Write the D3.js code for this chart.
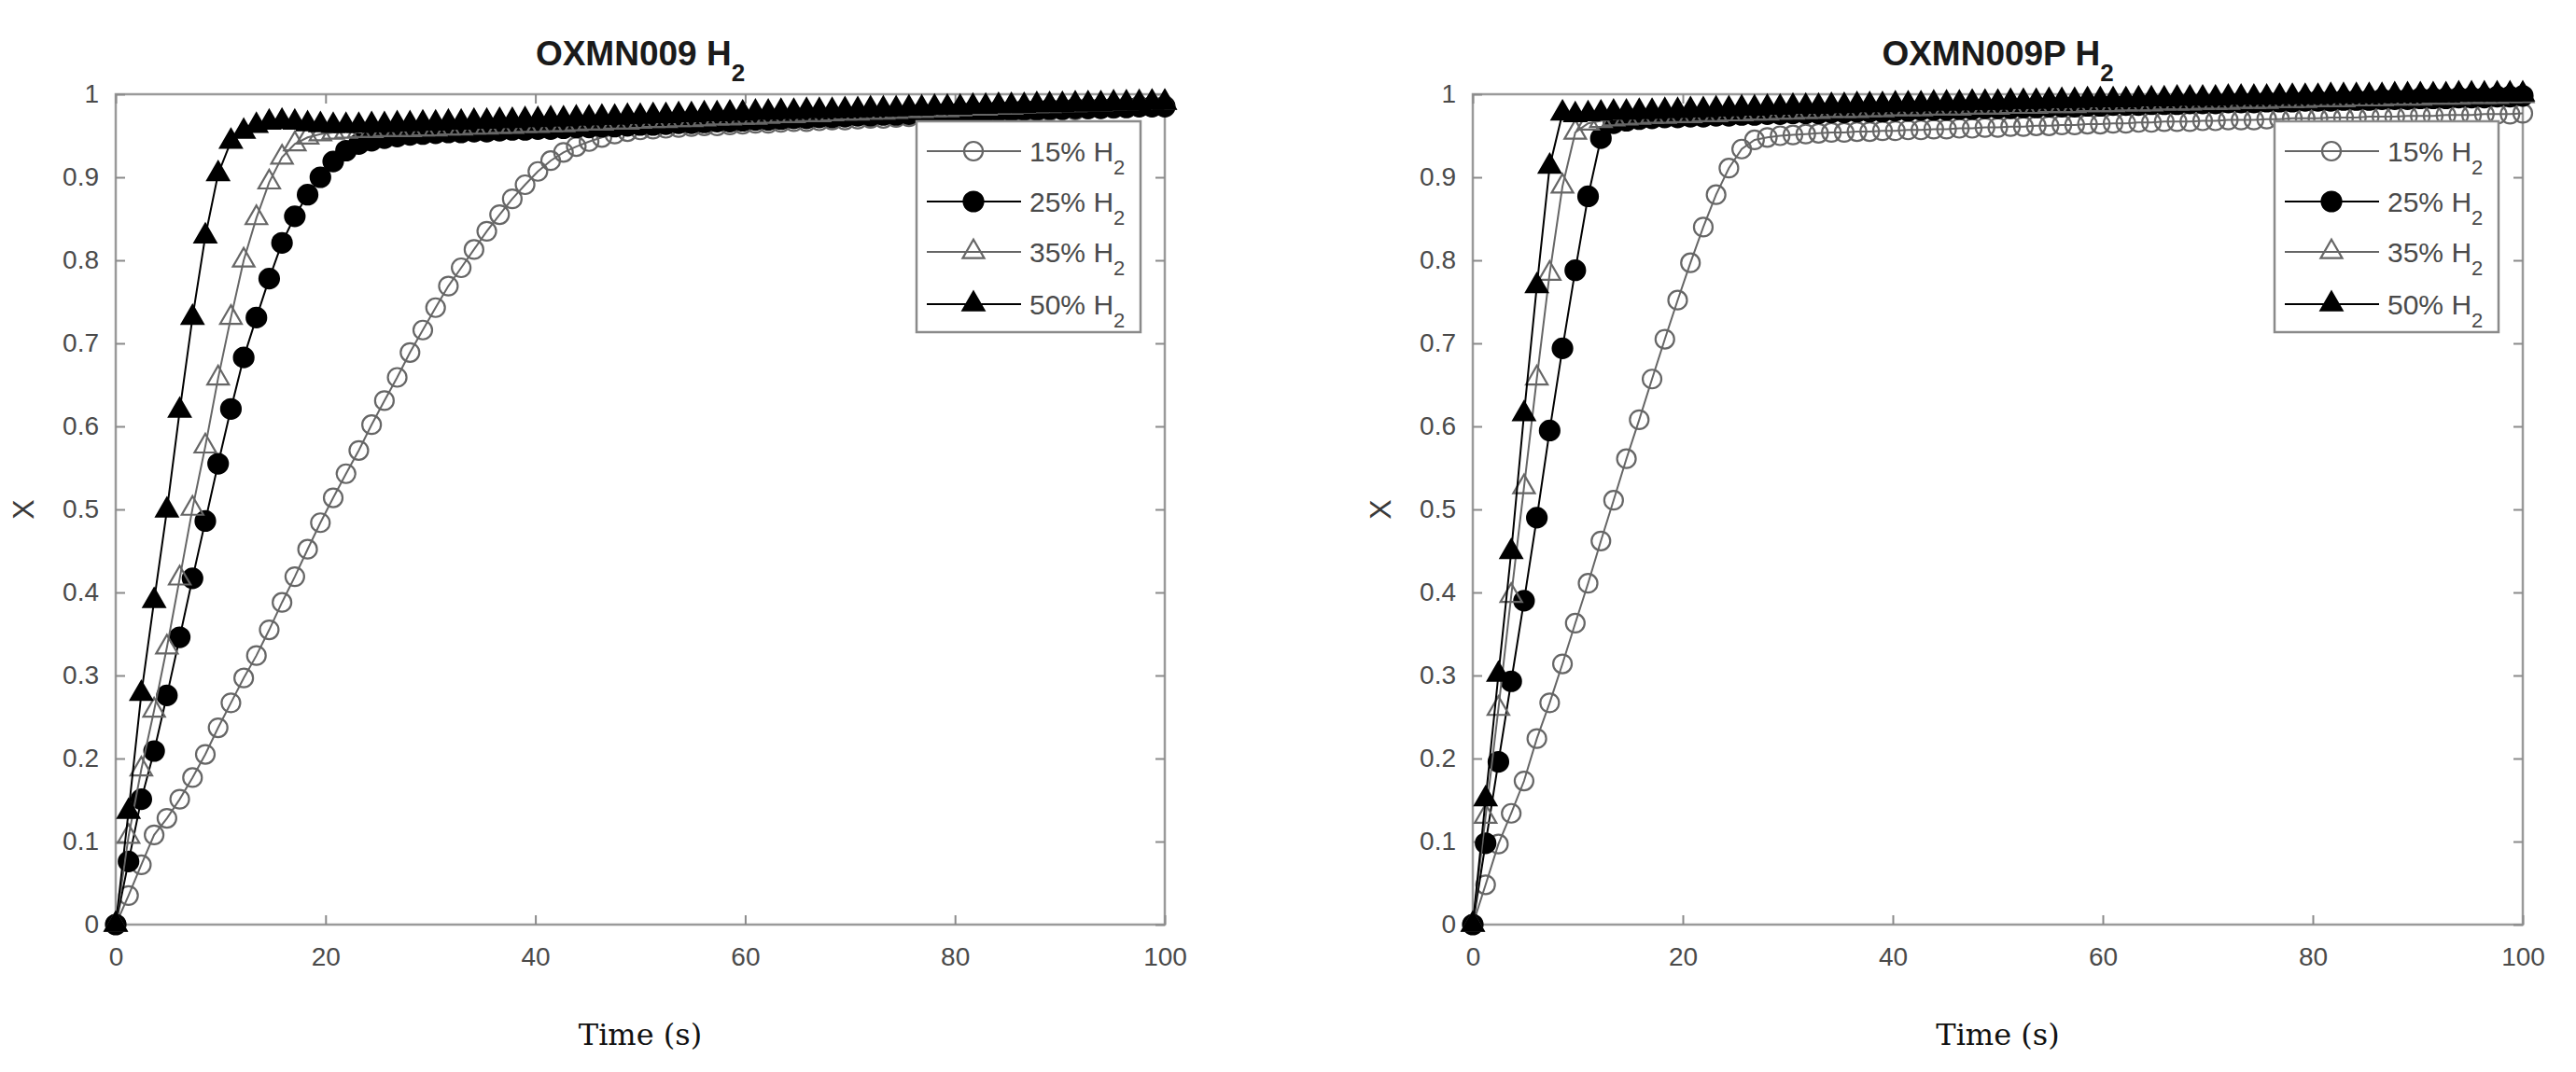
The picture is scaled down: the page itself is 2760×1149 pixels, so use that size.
<!DOCTYPE html>
<html><head><meta charset="utf-8">
<script src="https://cdn.jsdelivr.net/npm/d3@7"></script>
<style>body{margin:0;background:#fff}</style>
</head><body>
<svg id="c" width="2760" height="1149"></svg>
<script>
const time = [0,1.22,2.44,3.66,4.88,6.10,7.32,8.54,9.76,10.98,
12.20,13.41,14.63,15.85,17.07,18.29,19.51,20.73,21.95,23.17,
24.39,25.61,26.83,28.05,29.27,30.49,31.71,32.93,34.15,35.37,
36.59,37.80,39.02,40.24,41.46,42.68,43.90,45.12,46.34,47.56,
48.78,50.00,51.22,52.44,53.66,54.88,56.10,57.32,58.54,59.76,
60.98,62.20,63.41,64.63,65.85,67.07,68.29,69.51,70.73,71.95,
73.17,74.39,75.61,76.83,78.05,79.27,80.49,81.71,82.93,84.15,
85.37,86.59,87.80,89.02,90.24,91.46,92.68,93.90,95.12,96.34,
97.56,98.78,100.00];

const xTicks = [0,20,40,60,80,100];
const yTicks = [0,0.1,0.2,0.3,0.4,0.5,0.6,0.7,0.8,0.9,1];
const yTickLabels = ["0","0.1","0.2","0.3","0.4","0.5","0.6","0.7","0.8","0.9","1"];
const legendLabels = ["15% H","25% H","35% H","50% H"];
const titles = ["OXMN009 H","OXMN009P H"];
const xLabel = "Time (s)";
const yLabel = "X";

// OXMN009 (left panel)
const left15 = [0,0.035,0.072,0.108,0.128,0.151,0.177,0.205,0.237,0.267,
0.297,0.324,0.355,0.388,0.419,0.452,0.484,0.514,0.543,0.571,
0.602,0.631,0.659,0.689,0.716,0.743,0.769,0.791,0.813,0.835,
0.855,0.874,0.891,0.907,0.920,0.930,0.937,0.943,0.948,0.952,
0.955,0.957,0.958,0.959,0.960,0.961,0.962,0.962,0.963,0.964,
0.965,0.965,0.966,0.967,0.967,0.968,0.969,0.969,0.970,0.971,
0.971,0.972,0.973,0.973,0.974,0.975,0.975,0.976,0.977,0.977,
0.978,0.979,0.979,0.980,0.981,0.981,0.982,0.983,0.983,0.984,
0.985,0.985,0.986];
const left25 = [0,0.076,0.151,0.209,0.276,0.346,0.417,0.486,0.555,0.621,
0.683,0.731,0.778,0.821,0.853,0.879,0.900,0.919,0.932,0.940,
0.944,0.947,0.949,0.951,0.952,0.953,0.954,0.954,0.955,0.955,
0.956,0.957,0.957,0.958,0.958,0.959,0.960,0.960,0.961,0.961,
0.962,0.963,0.963,0.964,0.965,0.965,0.966,0.967,0.967,0.968,
0.969,0.969,0.970,0.971,0.971,0.972,0.972,0.973,0.974,0.974,
0.975,0.975,0.976,0.977,0.977,0.978,0.978,0.979,0.979,0.980,
0.980,0.981,0.981,0.982,0.982,0.983,0.983,0.983,0.984,0.984,
0.985,0.985,0.985];
const left35 = [0,0.106,0.187,0.258,0.334,0.417,0.501,0.576,0.658,0.731,
0.800,0.851,0.894,0.924,0.940,0.948,0.952,0.954,0.955,0.956,
0.956,0.957,0.957,0.957,0.958,0.958,0.959,0.959,0.960,0.960,
0.961,0.961,0.962,0.962,0.963,0.963,0.964,0.965,0.965,0.966,
0.966,0.967,0.968,0.968,0.969,0.969,0.970,0.971,0.971,0.972,
0.972,0.973,0.974,0.974,0.975,0.975,0.976,0.977,0.977,0.978,
0.978,0.979,0.980,0.980,0.981,0.981,0.982,0.983,0.983,0.984,
0.984,0.985,0.986,0.986,0.987,0.987,0.988,0.988,0.989,0.989,
0.990,0.990,0.990];
const left50 = [0,0.136,0.278,0.390,0.499,0.619,0.731,0.829,0.904,0.943,
0.955,0.962,0.966,0.967,0.966,0.964,0.963,0.962,0.962,0.962,
0.963,0.963,0.964,0.964,0.965,0.965,0.966,0.966,0.967,0.967,
0.968,0.968,0.969,0.969,0.970,0.970,0.971,0.971,0.972,0.972,
0.973,0.973,0.974,0.974,0.975,0.975,0.976,0.976,0.977,0.977,
0.978,0.978,0.979,0.979,0.980,0.980,0.980,0.981,0.981,0.982,
0.982,0.982,0.983,0.983,0.984,0.984,0.984,0.985,0.985,0.986,
0.986,0.986,0.987,0.987,0.987,0.988,0.988,0.988,0.989,0.989,
0.989,0.990,0.990];

// OXMN009P (right panel)
const right15 = [0,0.048,0.097,0.134,0.173,0.224,0.267,0.314,0.363,0.411,
0.462,0.511,0.561,0.608,0.657,0.705,0.752,0.797,0.840,0.879,
0.911,0.934,0.945,0.948,0.950,0.951,0.952,0.953,0.954,0.954,
0.955,0.955,0.956,0.956,0.957,0.957,0.958,0.958,0.959,0.959,
0.960,0.960,0.961,0.961,0.962,0.962,0.963,0.963,0.964,0.964,
0.965,0.965,0.966,0.966,0.967,0.967,0.967,0.968,0.968,0.969,
0.969,0.969,0.970,0.970,0.971,0.971,0.971,0.972,0.972,0.972,
0.973,0.973,0.973,0.974,0.974,0.974,0.975,0.975,0.975,0.976,
0.976,0.976,0.977];
const right25 = [0,0.098,0.196,0.293,0.390,0.490,0.595,0.694,0.788,0.877,
0.947,0.965,0.968,0.970,0.971,0.972,0.972,0.973,0.973,0.974,
0.974,0.975,0.975,0.976,0.976,0.977,0.977,0.977,0.978,0.978,
0.979,0.979,0.979,0.980,0.980,0.981,0.981,0.981,0.982,0.982,
0.983,0.983,0.983,0.984,0.984,0.985,0.985,0.985,0.986,0.986,
0.987,0.987,0.987,0.988,0.988,0.988,0.989,0.989,0.989,0.990,
0.990,0.990,0.991,0.991,0.991,0.992,0.992,0.992,0.993,0.993,
0.993,0.994,0.994,0.994,0.995,0.995,0.995,0.996,0.996,0.996,
0.997,0.997,0.998];
const right35 = [0,0.130,0.260,0.396,0.527,0.658,0.784,0.889,0.954,0.965,
0.968,0.970,0.971,0.972,0.973,0.973,0.974,0.974,0.975,0.975,
0.976,0.976,0.977,0.977,0.978,0.978,0.979,0.979,0.980,0.980,
0.980,0.981,0.981,0.982,0.982,0.982,0.983,0.983,0.983,0.984,
0.984,0.984,0.985,0.985,0.985,0.986,0.986,0.986,0.987,0.987,
0.987,0.988,0.988,0.988,0.989,0.989,0.989,0.990,0.990,0.990,
0.991,0.991,0.991,0.992,0.992,0.992,0.993,0.993,0.993,0.994,
0.994,0.994,0.995,0.995,0.995,0.996,0.996,0.996,0.997,0.997,
0.997,0.998,0.998];
const right50 = [0,0.151,0.301,0.449,0.615,0.769,0.913,0.977,0.975,0.976,
0.977,0.978,0.978,0.979,0.979,0.980,0.980,0.981,0.981,0.982,
0.982,0.983,0.983,0.984,0.984,0.985,0.985,0.985,0.986,0.986,
0.987,0.987,0.987,0.988,0.988,0.988,0.989,0.989,0.989,0.990,
0.990,0.990,0.991,0.991,0.991,0.992,0.992,0.992,0.993,0.993,
0.993,0.993,0.994,0.994,0.994,0.995,0.995,0.995,0.995,0.996,
0.996,0.996,0.996,0.997,0.997,0.997,0.997,0.998,0.998,0.998,
0.998,0.998,0.999,0.999,0.999,0.999,0.999,1.000,1.000,1.000,
1.000,1.000,1.000];

const GREY = "#666666";
const styles = [
  {shape:"circle", fill:"none", stroke:GREY, line:GREY},
  {shape:"circle", fill:"#000", stroke:"#000", line:"#000"},
  {shape:"triangle", fill:"none", stroke:GREY, line:GREY},
  {shape:"triangle", fill:"#000", stroke:"#000", line:"#000"}
];

const panels = [
  {x0:124, x1:1248, title:titles[0], series:[left15,left25,left35,left50]},
  {x0:1578, x1:2703, title:titles[1], series:[right15,right25,right35,right50]}
];
const yTop = 101, yBot = 991;

const svg = d3.select("#c");
svg.append("rect").attr("width",2760).attr("height",1149).attr("fill","#fff");

const triPath = d3.symbol().type(d3.symbolTriangle).size(230)();

function drawMarker(g, st, cx, cy){
  if(st.shape==="circle"){
    g.append("circle").attr("cx",cx).attr("cy",cy)
      .attr("r", st.fill==="none"?10:10.5)
      .attr("fill",st.fill).attr("stroke",st.stroke).attr("stroke-width",2.2);
  } else {
    g.append("path").attr("d",triPath).attr("transform",`translate(${cx},${cy})`)
      .attr("fill",st.fill).attr("stroke",st.stroke).attr("stroke-width",2.2);
  }
}

panels.forEach(p=>{
  const x = d3.scaleLinear().domain([0,100]).range([p.x0,p.x1]);
  const y = d3.scaleLinear().domain([0,1]).range([yBot,yTop]);
  const g = svg.append("g");

  // frame
  g.append("rect").attr("x",p.x0).attr("y",yTop).attr("width",p.x1-p.x0).attr("height",yBot-yTop)
    .attr("fill","none").attr("stroke","#9a9a9a").attr("stroke-width",2.5);

  const tickFmt = d=>yTickLabels[yTicks.indexOf(d)];
  const axB = g.append("g").attr("transform",`translate(0,${yBot})`)
    .call(d3.axisBottom(x).tickValues(xTicks).tickSize(-10).tickPadding(24).tickFormat(d3.format("d")));
  const axT = g.append("g").attr("transform",`translate(0,${yTop})`)
    .call(d3.axisTop(x).tickValues(xTicks).tickSize(-10).tickFormat(""));
  const axL = g.append("g").attr("transform",`translate(${p.x0},0)`)
    .call(d3.axisLeft(y).tickValues(yTicks).tickSize(-10).tickPadding(18).tickFormat(tickFmt));
  const axR = g.append("g").attr("transform",`translate(${p.x1},0)`)
    .call(d3.axisRight(y).tickValues(yTicks).tickSize(-10).tickFormat(""));
  [axB,axT,axL,axR].forEach(a=>{
    a.select(".domain").remove();
    a.selectAll(".tick line").attr("stroke","#8a8a8a").attr("stroke-width",2);
    a.selectAll("text").attr("font-family","'Liberation Sans', Arial, sans-serif")
      .attr("font-size",28).attr("fill","#4a4a4a");
  });

  // series
  p.series.forEach((vals,si)=>{
    const st = styles[si];
    const data = time.map((t,i)=>[t,vals[i]]);
    const sg = g.append("g");
    sg.append("path").datum(data)
      .attr("d", d3.line().x(d=>x(d[0])).y(d=>y(d[1])))
      .attr("fill","none").attr("stroke",st.line).attr("stroke-width",2);
    data.forEach(d=>drawMarker(sg, st, x(d[0]), y(d[1])));
  });

  // title
  const tt = g.append("text").attr("x",(p.x0+p.x1)/2).attr("y",70).attr("text-anchor","middle")
    .attr("font-family","'Liberation Sans', Arial, sans-serif").attr("font-weight","bold")
    .attr("font-size",37).attr("fill","#1a1a1a");
  tt.append("tspan").text(p.title);
  tt.append("tspan").attr("dy",17).attr("font-size",26).text("2");

  // x label
  g.append("text").attr("x",(p.x0+p.x1)/2).attr("y",1120).attr("text-anchor","middle")
    .attr("font-family","'DejaVu Serif', 'Liberation Serif', serif").attr("font-size",32)
    .attr("fill","#111").text(xLabel);
  // y label
  g.append("text").attr("transform",`translate(${p.x0-88},${(yTop+yBot)/2}) rotate(-90)`)
    .attr("text-anchor","middle").attr("font-family","'Liberation Sans', Arial, sans-serif")
    .attr("font-size",32).attr("fill","#3a3a3a").text(yLabel);

  // legend
  const lx = p.x1-266, ly = 130, lw = 240, lh = 226;
  const lg = g.append("g");
  lg.append("rect").attr("x",lx).attr("y",ly).attr("width",lw).attr("height",lh)
    .attr("fill","#fff").attr("stroke","#8a8a8a").attr("stroke-width",2.5);
  const rows = [32,86,140,196];
  legendLabels.forEach((lab,i)=>{
    const st = styles[i], cy = ly+rows[i];
    lg.append("line").attr("x1",lx+11).attr("x2",lx+112).attr("y1",cy).attr("y2",cy)
      .attr("stroke",st.line).attr("stroke-width",2);
    drawMarker(lg, st, lx+61, cy);
    const t = lg.append("text").attr("x",lx+121).attr("y",cy+11)
      .attr("font-family","'Liberation Sans', Arial, sans-serif").attr("font-size",30).attr("fill","#4a4a4a");
    t.append("tspan").text(lab);
    t.append("tspan").attr("dy",14).attr("font-size",22).text("2");
  });
});
</script>
</body></html>
